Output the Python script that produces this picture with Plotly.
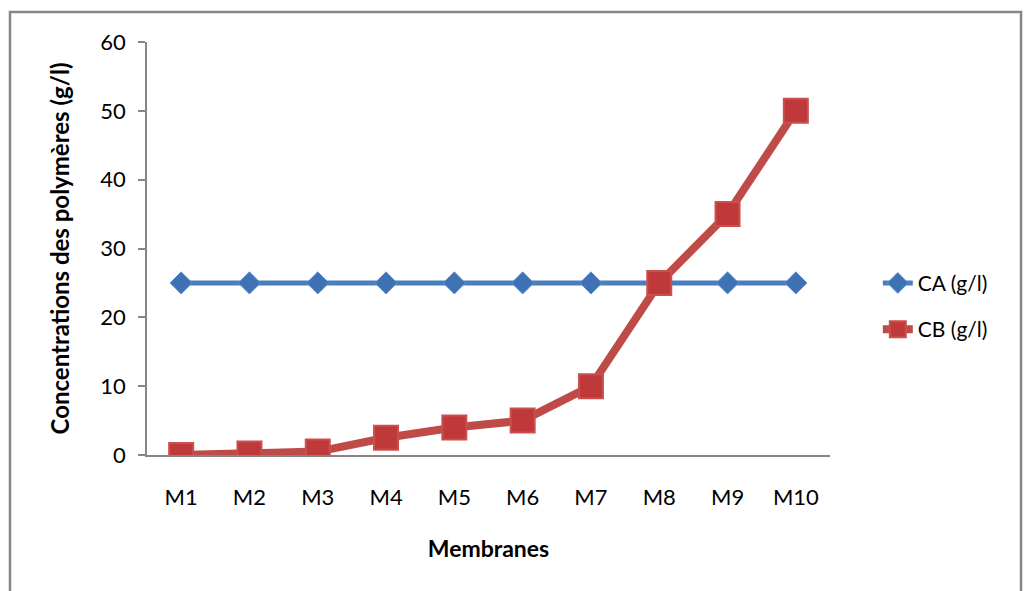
import plotly.graph_objects as go

membranes = ["M1", "M2", "M3", "M4", "M5", "M6", "M7", "M8", "M9", "M10"]
ca_values = [25, 25, 25, 25, 25, 25, 25, 25, 25, 25]
cb_values = [0, 0.2, 0.5, 2.5, 4, 5, 10, 25, 35, 50]
y_ticks = [0, 10, 20, 30, 40, 50, 60]

FONT = "Lato, 'Open Sans', sans-serif"

fig = go.Figure()
fig.add_trace(go.Scatter(
    x=membranes, y=ca_values, name="CA (g/l)", mode="lines+markers",
    legendgroup="ca",
    line=dict(color="#4A7EBB", width=5),
    marker=dict(symbol="diamond", size=17, color="#3F72B5",
                line=dict(color="#5B8FD0", width=1)),
))
fig.add_trace(go.Scatter(
    x=membranes, y=cb_values, name="CB (g/l)", mode="lines+markers",
    legendgroup="cb",
    line=dict(color="#BE4B48", width=8),
    marker=dict(symbol="square", size=24, color="#C0393A",
                line=dict(color="#C9504C", width=2)),
))

# outer chart frame
fig.add_shape(type="rect", xref="paper", yref="paper",
              x0=-0.2006, x1=1.2797, y0=-0.40, y1=1.0726,
              line=dict(color="#868686", width=2.5), fillcolor="rgba(0,0,0,0)")

fig.update_layout(
    width=1024, height=591,
    margin=dict(l=147, r=194, t=42, b=136),
    paper_bgcolor="white", plot_bgcolor="white",
    font=dict(family=FONT, size=22, color="#000000"),
    showlegend=True,
    legend=dict(x=1.07, y=0.36, xanchor="left", yanchor="middle",
                font=dict(family=FONT, size=21), tracegroupgap=16,
                bgcolor="rgba(0,0,0,0)"),
    xaxis=dict(
        type="category", range=[-0.5, 9.5],
        showline=True, linecolor="#868686", linewidth=1.5,
        ticks="", showgrid=False, zeroline=False,
        ticklabelstandoff=22,
        tickfont=dict(family=FONT, size=22),
        title=dict(text="<b>Membranes</b>", font=dict(family=FONT, size=23), standoff=32),
    ),
    yaxis=dict(
        range=[0, 60], tickvals=y_ticks,
        showline=True, linecolor="#868686", linewidth=1.5,
        ticks="outside", ticklen=7, tickcolor="#868686", tickwidth=1.5,
        showgrid=False, zeroline=False,
        ticklabelstandoff=8,
        tickfont=dict(family=FONT, size=22),
        title=dict(text="<b>Concentrations des polymères (g/l)</b>",
                   font=dict(family=FONT, size=24), standoff=24),
    ),
)

fig.write_html("out.html")
